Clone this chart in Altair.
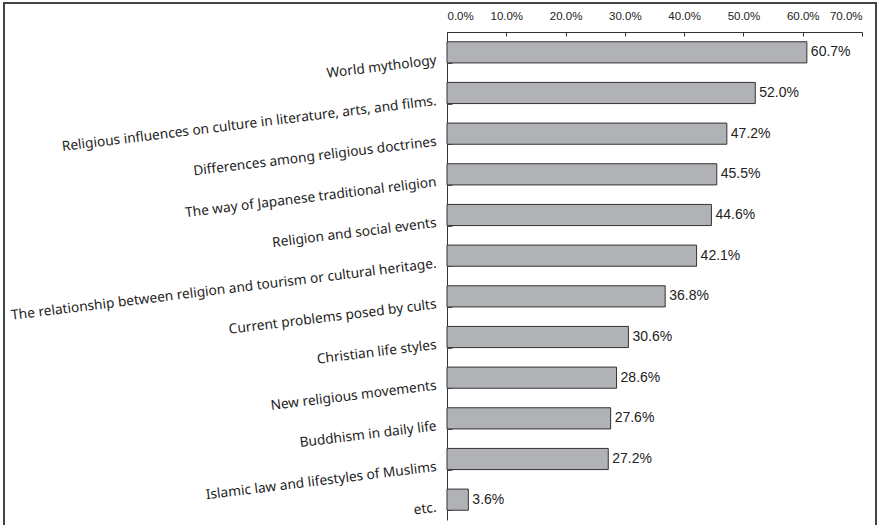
import altair as alt
import pandas as pd

categories = [
    "World mythology",
    "Religious influences on culture in literature, arts, and films.",
    "Differences among religious doctrines",
    "The way of Japanese traditional religion",
    "Religion and social events",
    "The relationship between religion and tourism or cultural heritage.",
    "Current problems posed by cults",
    "Christian life styles",
    "New religious movements",
    "Buddhism in daily life",
    "Islamic law and lifestyles of Muslims",
    "etc.",
]
values = [0.607, 0.520, 0.472, 0.455, 0.446, 0.421, 0.368, 0.306, 0.286, 0.276, 0.272, 0.036]
x_ticks = [0, 0.1, 0.2, 0.3, 0.4, 0.5, 0.6, 0.7]

df = pd.DataFrame({"cat": categories, "v": values})

W, H = 415, 488

xscale = alt.Scale(domain=[0, 0.7], nice=False, zero=True)
yscale = alt.Scale(domain=categories, paddingInner=0.48, paddingOuter=0.24)

base = alt.Chart(df)

bars = base.mark_bar(fill="#b1b2b6", stroke="#333333", strokeWidth=1).encode(
    x=alt.X("v:Q", scale=xscale,
            axis=alt.Axis(orient="top", format=".1%", values=x_ticks, title=None,
                          ticks=False, labelPadding=11, labelFontSize=11.5,
                          labelFont="Liberation Sans", labelColor="#222",
                          domainColor="#333", grid=False)),
    y=alt.Y("cat:N", sort=categories, scale=yscale,
            axis=alt.Axis(orient="left", title=None, ticks=False, labelAngle=353,
                          labelAlign="right", labelBaseline="middle",
                          labelOffset=8, labelPadding=11, labelFontSize=13.7,
                          labelFont="Noto Sans", labelColor="#222",
                          labelLimit=600, domainColor="#333")),
)

text = base.mark_text(align="left", baseline="middle", dx=4, fontSize=14,
                      font="Liberation Sans", color="#222").encode(
    x=alt.X("v:Q", scale=xscale, axis=None),
    y=alt.Y("cat:N", sort=categories, scale=yscale, axis=None),
    text=alt.Text("v:Q", format=".1%"),
)

ticks = base.mark_bar(opacity=0).encode(
    x=alt.X("v:Q", scale=xscale,
            axis=alt.Axis(orient="bottom", offset=-H, values=x_ticks, labels=False,
                          domain=False, tickSize=4, tickColor="#333", title=None,
                          grid=False)),
    y=alt.Y("cat:N", sort=categories, scale=yscale,
            axis=alt.Axis(orient="right", offset=-W, labels=False, domain=False,
                          tickBand="extent", tickSize=5, tickColor="#555",
                          title=None)),
)

frame = alt.Chart(pd.DataFrame({"a": [0]})).mark_rect(
    fillOpacity=0, stroke="#444444", strokeWidth=2
).encode(
    x=alt.value(-443), x2=alt.value(429), y=alt.value(-29), y2=alt.value(H + 40)
)

chart = alt.layer(bars, text, ticks, frame).resolve_axis(
    x="independent", y="independent"
).properties(
    width=W, height=H,
    autosize=alt.AutoSizeParams(type="none"),
    padding={"left": 447, "top": 32, "right": 19, "bottom": 5},
    background="white",
).configure_view(stroke=None)

chart.save("out.html", embed_options={"renderer": "svg", "actions": False})
